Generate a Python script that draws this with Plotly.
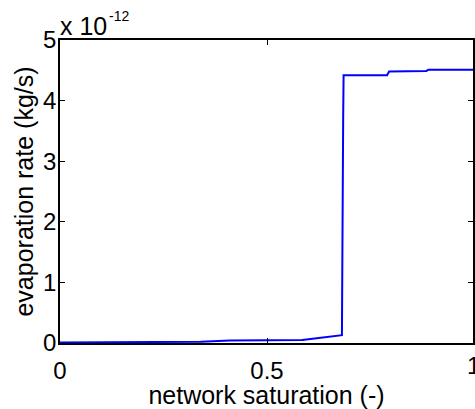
import plotly.graph_objects as go

# network saturation (-)
saturation = [0.0, 0.25, 0.34, 0.41, 0.585, 0.61, 0.675, 0.681, 0.684, 0.685,
              0.79, 0.795, 0.885, 0.89, 1.0]
# evaporation rate, in units of 1e-12 kg/s
evap_rate = [0.01, 0.01, 0.02, 0.04, 0.05, 0.07, 0.13, 0.13, 3.7, 4.42,
             4.42, 4.48, 4.49, 4.51, 4.51]

x_ticks = [0, 0.5]
x_tick_labels = ["0", "0.5"]
y_ticks = [0, 1, 2, 3, 4, 5]

FONT = "Liberation Sans, Arial, sans-serif"
TICK_SIZE = 24
TITLE_SIZE = 25

fig = go.Figure()
fig.add_trace(go.Scatter(x=saturation, y=evap_rate, mode="lines",
                         line=dict(color="#0000ff", width=2), showlegend=False))

fig.update_layout(
    width=475, height=409,
    margin=dict(l=60, r=0, t=40, b=66),
    paper_bgcolor="white", plot_bgcolor="white",
    font=dict(family=FONT, color="black"),
    xaxis=dict(range=[0, 0.9976], tickvals=x_ticks, ticktext=x_tick_labels,
               ticks="inside", ticklen=5, tickwidth=1, tickcolor="black",
               showline=True, linecolor="black", linewidth=1.5, mirror="ticks",
               showgrid=False, zeroline=False, ticklabelstandoff=5,
               tickfont=dict(size=TICK_SIZE, family=FONT),
               title=dict(text="network saturation (-)", font=dict(size=TITLE_SIZE, family=FONT),
                          standoff=0)),
    yaxis=dict(range=[0, 5], tickvals=y_ticks,
               ticks="inside", ticklen=5, tickwidth=1, tickcolor="black",
               showline=True, linecolor="black", linewidth=1.5, mirror="ticks",
               showgrid=False, zeroline=False, ticklabelstandoff=-3,
               tickfont=dict(size=TICK_SIZE, family=FONT),
               title=dict(text="evaporation rate (kg/s)", font=dict(size=TITLE_SIZE, family=FONT),
                          standoff=2)),
    annotations=[
        dict(text="x 10", xref="paper", yref="paper", x=0, y=1,
             xanchor="left", yanchor="bottom", showarrow=False, yshift=-2, xshift=-2,
             font=dict(size=25, family=FONT)),
        dict(text="-12", xref="paper", yref="paper", x=0, y=1,
             xanchor="left", yanchor="top", showarrow=False, yshift=34, xshift=47,
             font=dict(size=14, family=FONT)),
        dict(text="1", xref="paper", yref="paper", x=1 / 0.9976, y=0,
             xanchor="center", yanchor="top", showarrow=False, yshift=-7,
             font=dict(size=TICK_SIZE, family=FONT)),
    ],
)

fig.write_html("out.html")
